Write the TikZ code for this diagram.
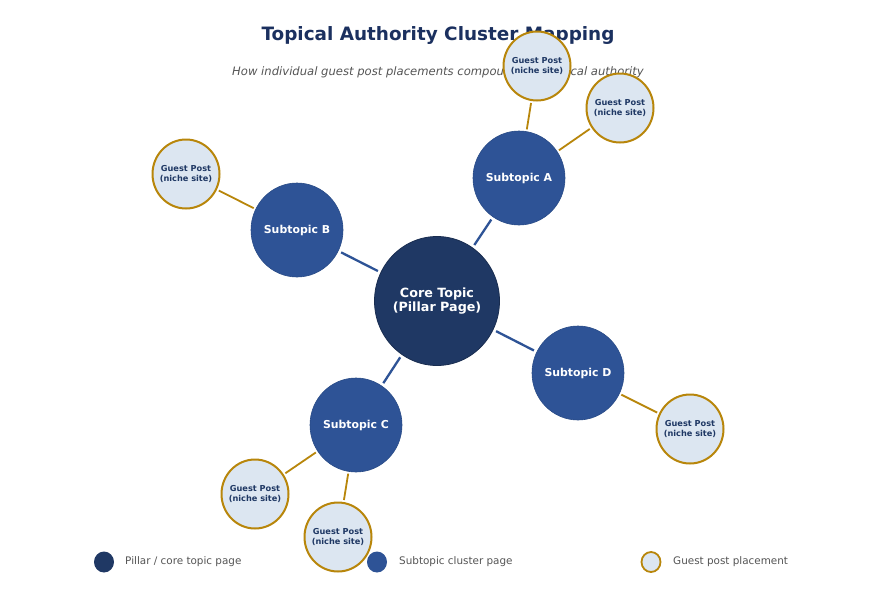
\documentclass[tikz,border=0pt]{standalone}
\usepackage{fontspec}
\setmainfont{DejaVu Sans}
\usetikzlibrary{shapes.geometric}
\definecolor{navy}{HTML}{1F3864}
\definecolor{subblue}{HTML}{2E5396}
\definecolor{gpfill}{HTML}{DCE6F1}
\definecolor{gold}{HTML}{B8860B}
\definecolor{titlec}{HTML}{1B305F}
\definecolor{greytext}{HTML}{555555}
\tikzset{
  core/.style={ellipse, fill=navy, draw=navy!80!black, line width=0.8pt, minimum width=125pt, minimum height=129pt, inner sep=-15pt, text=white, font=\bfseries\fontsize{12.7}{14.5}\selectfont, align=center},
  sub/.style={ellipse, fill=subblue, draw=subblue!90!black, line width=0.6pt, minimum width=92pt, minimum height=94pt, inner sep=-15pt, text=white, font=\bfseries\fontsize{10.9}{12}\selectfont, align=center},
  gp/.style={ellipse, fill=gpfill, draw=gold, line width=2pt, minimum width=67pt, minimum height=69pt, inner sep=-15pt, text=navy, font=\bfseries\fontsize{8.2}{10.2}\selectfont, align=center},
  blueline/.style={draw=subblue, line width=2.3pt, shorten <=3pt, shorten >=3pt},
  goldline/.style={draw=gold, line width=1.8pt, shorten <=2pt, shorten >=2pt},
  legtext/.style={text=greytext, font=\fontsize{10.4}{12}\selectfont, anchor=west, inner sep=0pt}
}
\begin{document}
\begin{tikzpicture}[x=1pt,y=-1pt]
\useasboundingbox (0,0) rectangle (875,603);
\fill[white] (0,0) rectangle (875,603);
% titles
\node[text=titlec, font=\bfseries\fontsize{18.4}{22}\selectfont] (title) at (438,35) {Topical Authority Cluster Mapping};
\node[text=greytext, font=\itshape\fontsize{11.6}{14}\selectfont] (subtitle) at (438,72) {How individual guest post placements compound into topical authority};
% nodes
\node[core] (core) at (437,301) {Core Topic\\(Pillar Page)};
\node[sub] (sa) at (519,178) {Subtopic A};
\node[sub] (sb) at (297,230) {Subtopic B};
\node[sub] (sc) at (356,425) {Subtopic C};
\node[sub] (sd) at (578,373) {Subtopic D};
\node[gp] (a1) at (537,66) {Guest Post\\(niche site)};
\node[gp] (a2) at (620,108) {Guest Post\\(niche site)};
\node[gp] (b1) at (186,174) {Guest Post\\(niche site)};
\node[gp] (c1) at (255,494) {Guest Post\\(niche site)};
\node[gp] (c2) at (338,537) {Guest Post\\(niche site)};
\node[gp] (d1) at (690,429) {Guest Post\\(niche site)};
% connectors
\draw[blueline] (core) -- (sa);
\draw[blueline] (core) -- (sb);
\draw[blueline] (core) -- (sc);
\draw[blueline] (core) -- (sd);
\draw[goldline] (sa) -- (a1);
\draw[goldline] (sa) -- (a2);
\draw[goldline] (sb) -- (b1);
\draw[goldline] (sc) -- (c1);
\draw[goldline] (sc) -- (c2);
\draw[goldline] (sd) -- (d1);
% legend
\node[ellipse, fill=navy, minimum width=20pt, minimum height=21pt, inner sep=0pt] (l1) at (104,562) {};
\node[legtext] (l1t) at (125,562) {Pillar / core topic page};
\node[ellipse, fill=subblue, minimum width=20pt, minimum height=21pt, inner sep=0pt] (l2) at (377,562) {};
\node[legtext] (l2t) at (399,562) {Subtopic cluster page};
\node[ellipse, fill=gpfill, draw=gold, line width=1.8pt, minimum width=19pt, minimum height=20pt, inner sep=0pt] (l3) at (651,562) {};
\node[legtext] (l3t) at (673,562) {Guest post placement};
\end{tikzpicture}
\end{document}
